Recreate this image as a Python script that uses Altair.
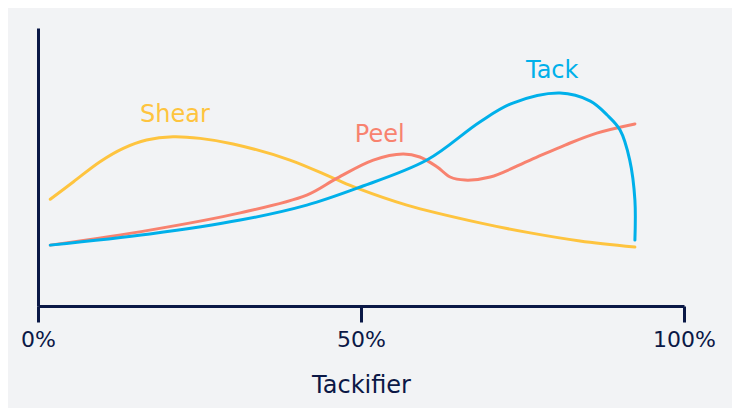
import altair as alt
import pandas as pd

series_names = ["Shear", "Peel", "Tack"]
series_colors = ["#FEC43F", "#F8826F", "#00B0EA"]

shear_x = [1.9, 5.5, 9.6, 13.2, 16.8, 20.9, 25.1, 30.2, 39.0, 45.7, 49.4, 57.1, 68.4, 76.2, 83.9, 92.4]
shear_y = [38.4, 44.7, 51.9, 56.7, 59.7, 60.9, 60.3, 58.3, 52.5, 46.0, 42.4, 36.3, 29.9, 26.3, 23.4, 21.2]

peel_x = [1.9, 17.3, 31.3, 41.6, 46.3, 51.9, 56.5, 59.1, 61.8, 63.8, 66.1, 70.0, 76.2, 81.6, 86.5, 92.4]
peel_y = [21.9, 27.3, 33.5, 39.9, 46.0, 52.5, 54.7, 53.6, 50.0, 46.4, 45.3, 46.4, 52.5, 57.9, 62.2, 65.5]

tack_x = [1.9, 17.3, 31.3, 41.6, 49.4, 60.2, 68.4, 73.5, 80.8, 85.5, 88.1, 90.1, 91.6, 92.4, 92.4]
tack_y = [21.9, 25.9, 30.9, 36.3, 42.4, 52.5, 66.2, 73.0, 76.6, 73.7, 68.7, 63.3, 52.5, 38.1, 23.7]

label_x = [21.2, 52.9, 79.6]
label_y = [66.1, 59.1, 82.0]

tick_values = [0, 50, 100]

rows = []
for name, xs, ys in [("Shear", shear_x, shear_y), ("Peel", peel_x, peel_y), ("Tack", tack_x, tack_y)]:
    for i, (xv, yv) in enumerate(zip(xs, ys)):
        rows.append({"series": name, "x": xv, "y": yv, "i": i})
df = pd.DataFrame(rows)

labels_df = pd.DataFrame({"series": series_names, "x": label_x, "y": label_y})

navy = "#0B1846"
font = "DejaVu Sans"
color_scale = alt.Scale(domain=series_names, range=series_colors)
xscale = alt.Scale(domain=[0, 100], nice=False, zero=False)
yscale = alt.Scale(domain=[0, 100], nice=False)

lines = alt.Chart(df).mark_line(
    interpolate="catmull-rom", strokeWidth=3, strokeCap="round"
).encode(
    x=alt.X("x:Q", scale=xscale, axis=alt.Axis(
        values=tick_values, labelExpr="datum.value + '%'", title="Tackifier",
        grid=False, domainColor=navy, domainWidth=3, tickColor=navy, tickWidth=3,
        tickSize=16, labelColor=navy, labelFontSize=22, labelPadding=7,
        labelFont=font, titleFont=font, titleFontSize=24, titleFontWeight="normal",
        titleColor=navy, titlePadding=23, labelFlush=False)),
    y=alt.Y("y:Q", scale=yscale, axis=alt.Axis(
        labels=False, ticks=False, title=None, grid=False,
        domainColor=navy, domainWidth=3)),
    color=alt.Color("series:N", scale=color_scale, legend=None),
    order=alt.Order("i:Q"),
)

texts = alt.Chart(labels_df).mark_text(
    fontSize=24, font=font, baseline="alphabetic", align="center"
).encode(
    x=alt.X("x:Q", scale=xscale),
    y=alt.Y("y:Q", scale=yscale),
    text="series:N",
    color=alt.Color("series:N", scale=color_scale, legend=None),
)

chart = alt.layer(lines, texts).properties(
    width=646, height=278,
    autosize=alt.AutoSizeParams(type="none"),
    padding={"left": 30, "top": 20, "right": 48, "bottom": 102},
    background="#F2F3F5",
).configure_view(stroke=None)

chart.save("out.html", embed_options={"renderer": "svg", "actions": False})
